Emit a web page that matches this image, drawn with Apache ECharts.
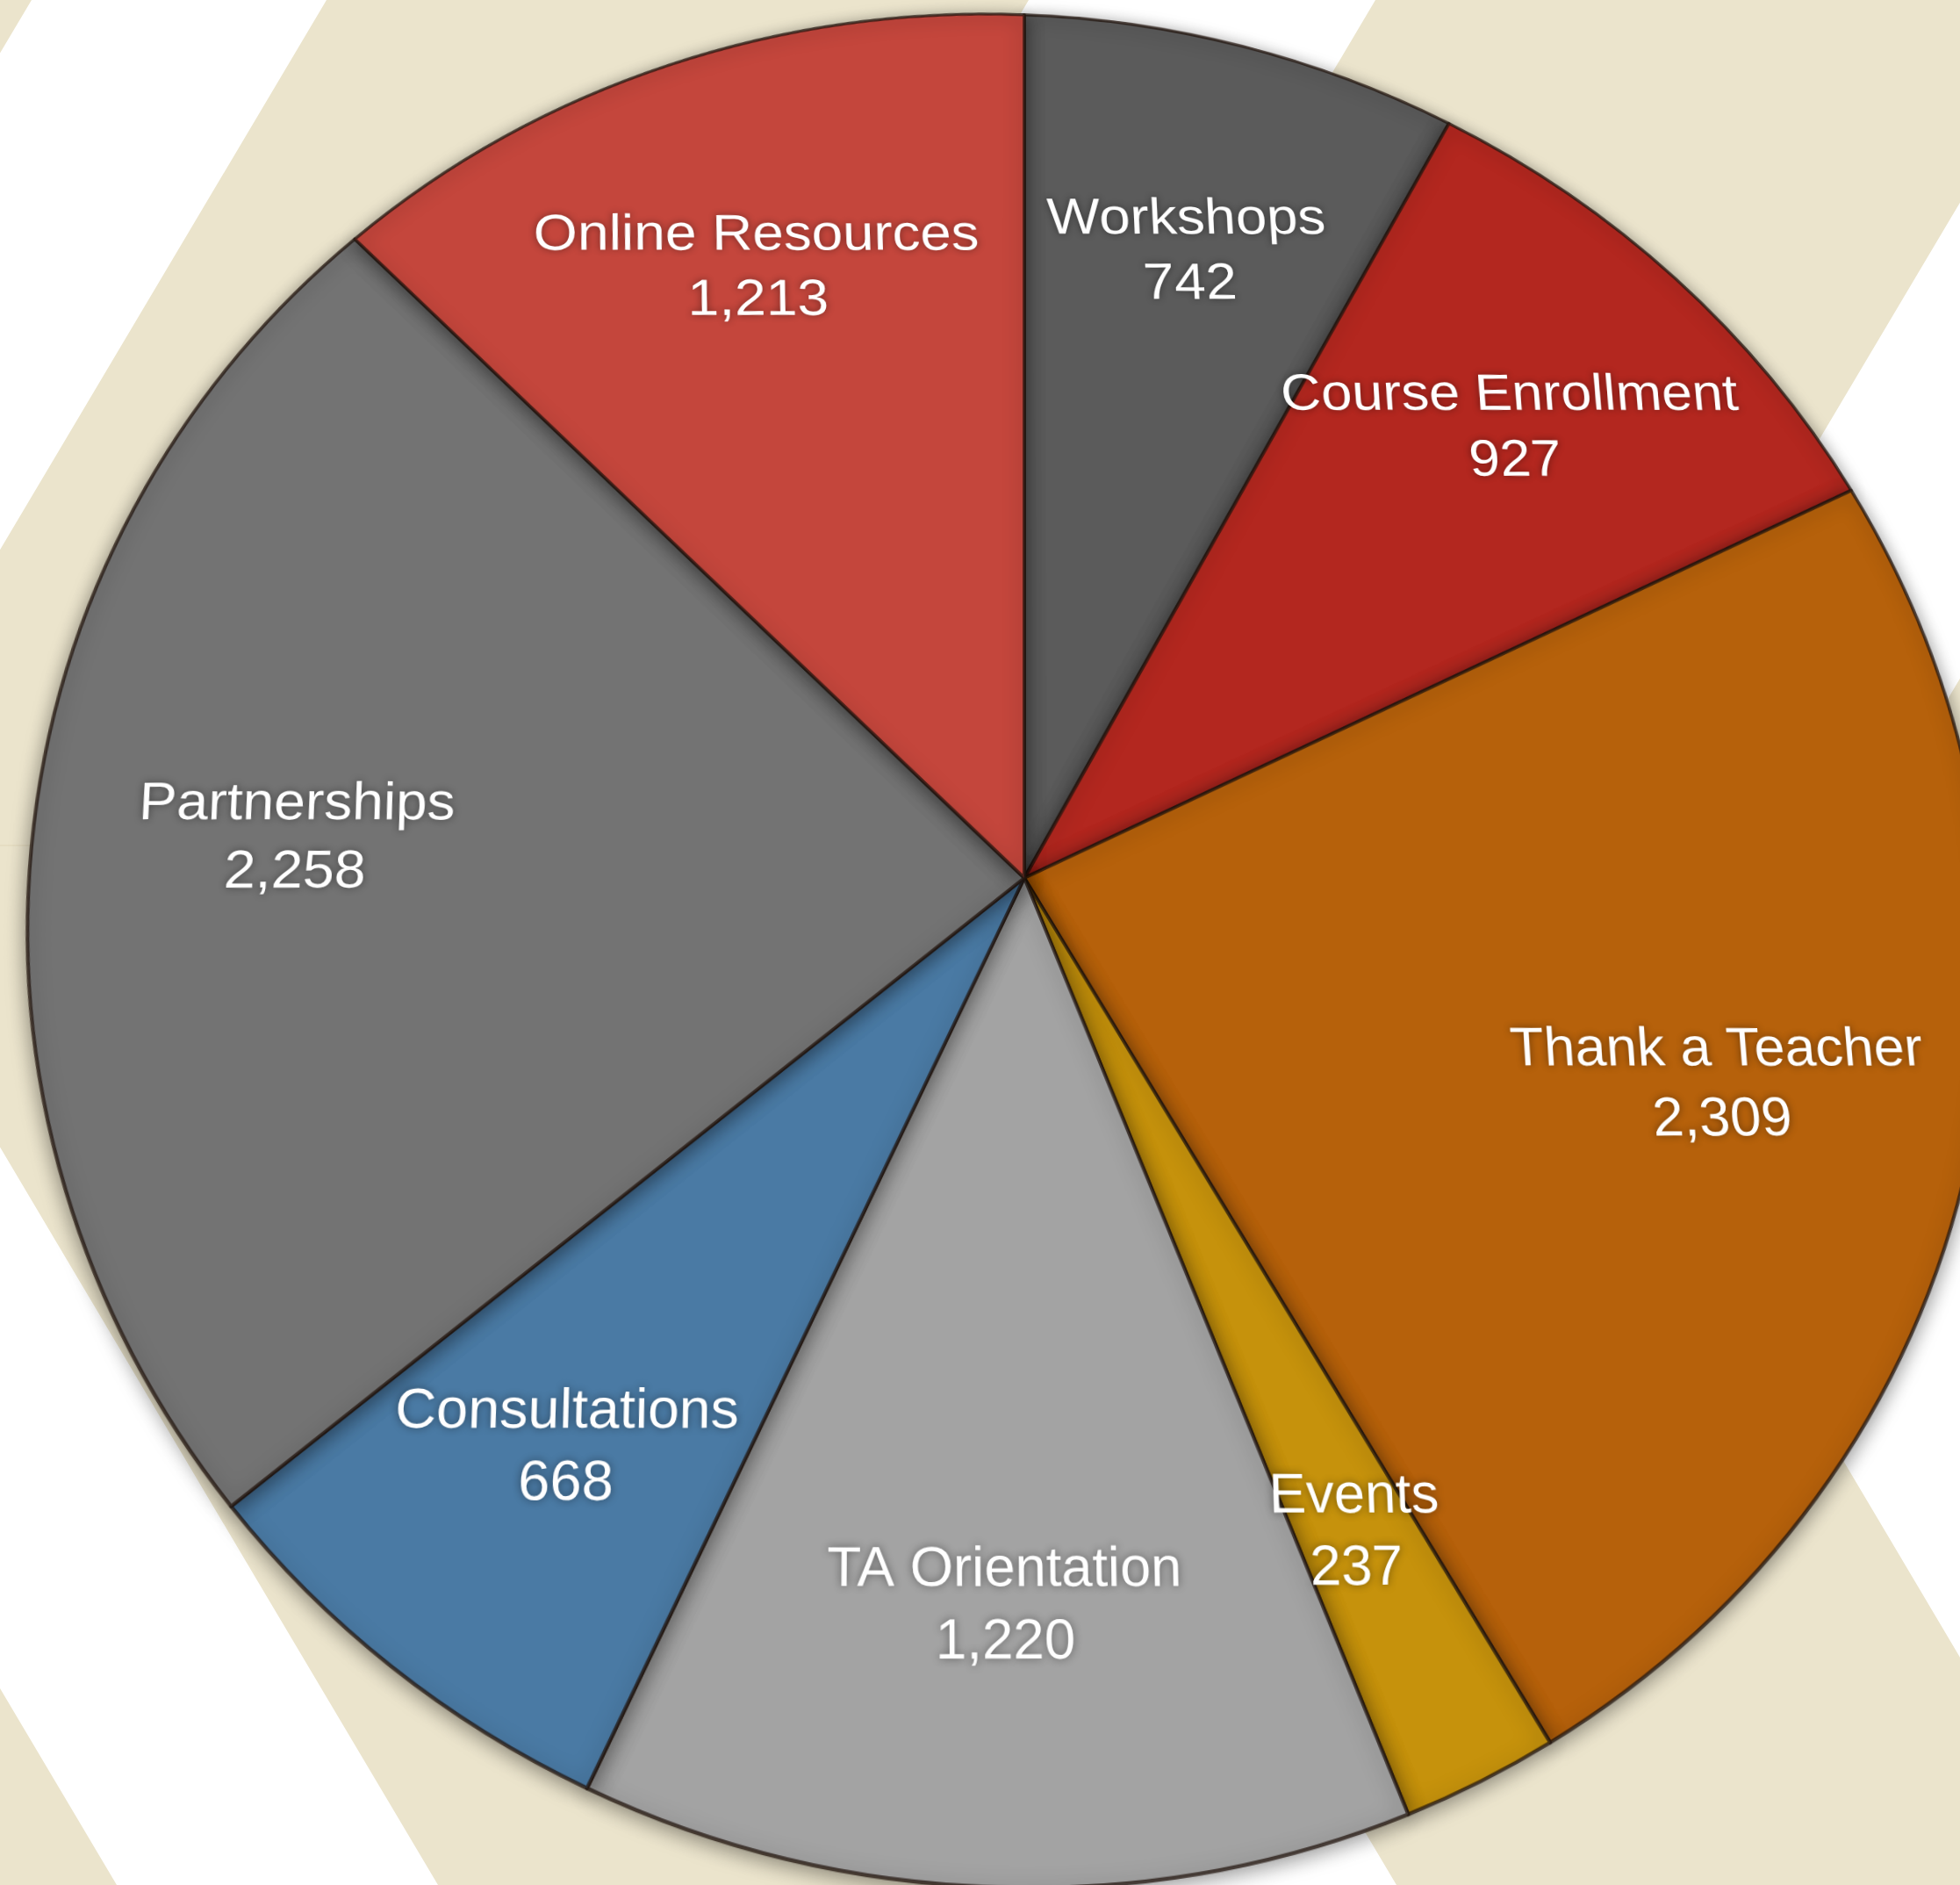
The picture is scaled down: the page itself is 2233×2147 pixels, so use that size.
<!DOCTYPE html>
<html>
<head>
<meta charset="utf-8">
<script src="https://cdn.jsdelivr.net/npm/echarts@6/dist/echarts.min.js"></script>
<style>
  html, body { margin: 0; padding: 0; width: 2233px; height: 2147px; overflow: hidden; background: #ffffff; position: relative; }
  #bg { position: absolute; left: 0; top: 0; }
  #chart {
    position: absolute; left: -250px; top: -300px; width: 2750px; height: 2700px;
    transform-origin: 1417px 1300px;
  }
</style>
</head>
<body>
<svg id="bg" width="2233" height="2147" xmlns="http://www.w3.org/2000/svg">
  <g fill="#ebe4cc">
    <polygon points="-3000,0 36,0 -536,963 -570,963 133,2147 -2869,2147 -3572,963"/>
    <polygon points="372,0 1172,0 600,963 490,963 1193,2147 499,2147 -204,963 -200,963"/>
    <polygon points="1567,0 2370,0 1798,963 1684,963 2387,2147 1591,2147 888,963 995,963"/>
    <polygon points="2692,0 6000,0 6000,2147 2713,2147 2010,963 2120,963"/>
  </g>
  <line x1="0" y1="963" x2="220" y2="963" stroke="#e0d6b8" stroke-width="1"/>
</svg>
<div id="chart"></div>
<script>
// ---- data ----
const categories = ['Workshops', 'Course Enrollment', 'Thank a Teacher', 'Events',
                    'TA Orientation', 'Consultations', 'Partnerships', 'Online Resources'];
const values = [742, 927, 2309, 237, 1220, 668, 2258, 1213];
const sliceColors = ['#5b5b5b', '#b3271f', '#b6610b', '#c6920c',
                     '#a3a3a3', '#4a7aa4', '#737373', '#c4463c'];

// ---- view (the pie is seen slightly tilted) ----
const TILT_X = 18.2, TILT_Y = 4, PERSP = 4451;
const CENTER = [1417, 1300];
const R = 1116;
const R_LABEL_INNER = 525;

const chartEl = document.getElementById('chart');
chartEl.style.transform =
  'perspective(' + PERSP + 'px) rotateX(' + TILT_X + 'deg) rotateY(' + TILT_Y + 'deg)';

const thx = TILT_X * Math.PI / 180, thy = TILT_Y * Math.PI / 180;
function project(x, y) {               // flat offsets from the pie centre -> screen offsets
  const x1 = x * Math.cos(thy), z1 = -x * Math.sin(thy);
  const y2 = y * Math.cos(thx) - z1 * Math.sin(thx);
  const z2 = y * Math.sin(thx) + z1 * Math.cos(thx);
  const s = PERSP / (PERSP - z2);
  return [x1 * s, y2 * s, s];
}

const chart = echarts.init(chartEl, null, { renderer: 'canvas' });
const total = values.reduce((a, b) => a + b, 0);

const pieData = categories.map((name, i) => ({
  name: name,
  value: values[i],
  itemStyle: { color: sliceColors[i] }
}));

// labels: keep them upright and of even size on screen despite the tilt
let cum = 0;
const labelData = categories.map((name, i) => {
  const mid = (cum + values[i] / 2) / total * 2 * Math.PI;
  cum += values[i];
  const rho = (R_LABEL_INNER + R) / 2;
  const x = rho * Math.sin(mid), y = -rho * Math.cos(mid);
  const p0 = project(x, y);
  let best = 0, bestErr = Infinity;
  for (let b = -8; b <= 8; b += 0.05) {
    const br = b * Math.PI / 180;
    const p1 = project(x + 40 * Math.cos(br), y - 40 * Math.sin(br));
    const err = Math.abs(p1[1] - p0[1]);
    if (err < bestErr) { bestErr = err; best = b; }
  }
  const s = p0[2];
  return {
    name: name,
    value: values[i],
    label: {
      rotate: Math.round(best * 100) / 100,
      fontSize: Math.round(64 / s),
      lineHeight: Math.round(78 / (s * Math.cos(thx)))
    }
  };
});

chart.setOption({
  animation: false,
  backgroundColor: 'transparent',
  series: [
    {
      type: 'pie',
      center: CENTER,
      radius: [0, R],
      startAngle: 90,
      clockwise: true,
      avoidLabelOverlap: false,
      silent: true,
      label: { show: false },
      labelLine: { show: false },
      itemStyle: {
        borderColor: 'rgba(35,22,15,0.75)',
        borderWidth: 4,
        shadowBlur: 22,
        shadowColor: 'rgba(0,0,0,0.45)',
        shadowOffsetY: 4
      },
      data: pieData
    },
    {
      type: 'pie',
      center: CENTER,
      radius: [R_LABEL_INNER, R],
      startAngle: 90,
      clockwise: true,
      avoidLabelOverlap: false,
      silent: true,
      itemStyle: { color: 'rgba(0,0,0,0)', borderWidth: 0 },
      labelLine: { show: false },
      label: {
        show: true,
        position: 'inside',
        color: '#ffffff',
        fontFamily: '"Liberation Sans", Arial, "Helvetica Neue", sans-serif',
        fontSize: 61,
        lineHeight: 82,
        textShadowColor: 'rgba(0,0,0,0.45)',
        textShadowBlur: 10,
        formatter: function (p) {
          return p.name + '\n' + Number(p.value).toLocaleString('en-US');
        }
      },
      data: labelData
    }
  ]
});
</script>
</body>
</html>
